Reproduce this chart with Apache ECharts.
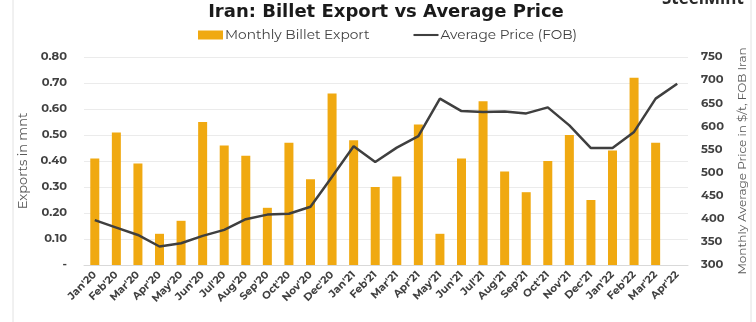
<!DOCTYPE html>
<html>
<head>
<meta charset="utf-8">
<script src="https://cdn.jsdelivr.net/npm/echarts@6/dist/echarts.min.js"></script>
<style>
  html, body { margin: 0; padding: 0; background: #fff; }
  #chart { width: 756px; height: 322px; }
</style>
</head>
<body>
<div id="chart"></div>
<script>
// Months from Jan'20 to Apr'22
var months = ["Jan'20","Feb'20","Mar'20","Apr'20","May'20","Jun'20","Jul'20","Aug'20","Sep'20","Oct'20","Nov'20","Dec'20",
              "Jan'21","Feb'21","Mar'21","Apr'21","May'21","Jun'21","Jul'21","Aug'21","Sep'21","Oct'21","Nov'21","Dec'21",
              "Jan'22","Feb'22","Mar'22","Apr'22"];

// Monthly billet export, million tonnes (no figure yet for Apr'22)
var billetExport = [0.41,0.51,0.39,0.12,0.17,0.55,0.46,0.42,0.22,0.47,0.33,0.66,
                    0.48,0.30,0.34,0.54,0.12,0.41,0.63,0.36,0.28,0.40,0.50,0.25,
                    0.44,0.72,0.47,null];

// Monthly average price, $/t FOB Iran
var avgPrice = [397,381,365,340,347,363,376,399,409,411,426,491,
                557,523,554,579,660,633,631,632,628,641,602,553,
                553,588,660,692];

// Axis ranges
var exportAxis = { min: 0, max: 0.8, step: 0.1 };
var priceAxis = { min: 300, max: 750, step: 50 };

var labelFont = "Montserrat, 'Open Sans', sans-serif";
var chart = echarts.init(document.getElementById('chart'), null, { renderer: 'canvas' });

chart.setOption({
  backgroundColor: '#ffffff',
  animation: false,
  textStyle: { fontFamily: labelFont },
  title: {
    text: 'Iran: Billet Export vs Average Price',
    left: 381, textAlign: 'center', top: -2,
    textStyle: { fontFamily: "'DejaVu Sans', sans-serif", fontWeight: 700, fontSize: 18, color: '#1a1a1a' }
  },
  graphic: [
    { type: 'rect', shape: { x: 13, y: -2, width: 738, height: 330 },
      style: { fill: 'none', stroke: '#e2e2e2', lineWidth: 1 }, silent: true },
    { type: 'text', left: 662, top: -9,
      style: { text: 'SteelMint', font: "700 17px 'Open Sans', sans-serif", fill: '#2a2a2a' } }
  ],
  legend: {
    top: 23, left: 193,
    itemGap: 44, itemWidth: 25, itemHeight: 9,
    textStyle: { fontFamily: labelFont, fontSize: 13.7, color: '#404040', padding: [0,0,0,-3] },
    data: [
      { name: 'Monthly Billet Export', icon: 'rect' },
      { name: 'Average Price (FOB)', icon: 'path://M0,4 L24,4 L24,6 L0,6 Z' }
    ]
  },
  grid: { left: 84, right: 67, top: 57, bottom: 57, containLabel: false },
  xAxis: {
    type: 'category', data: months,
    axisLine: { lineStyle: { color: '#d9d9d9' } },
    axisTick: { show: false },
    axisLabel: { rotate: 45, interval: 0, fontSize: 10.5, fontWeight: 700, color: '#404040', margin: 8 }
  },
  yAxis: [
    {
      type: 'value', min: exportAxis.min, max: exportAxis.max, interval: exportAxis.step,
      name: 'Exports in mnt', nameLocation: 'middle', nameGap: 50, nameRotate: 90,
      nameTextStyle: { fontSize: 13, color: '#595959' },
      axisLine: { show: false }, axisTick: { show: false },
      splitLine: { lineStyle: { color: '#ebebeb' } },
      axisLabel: {
        fontSize: 11.5, fontWeight: 700, color: '#404040', margin: 17,
        formatter: function (v) { return v === 0 ? '-' : v.toFixed(2); }
      }
    },
    {
      type: 'value', min: priceAxis.min, max: priceAxis.max, interval: priceAxis.step,
      name: 'Monthly Average Price in $/t, FOB Iran', nameLocation: 'middle', nameGap: 48, nameRotate: 90,
      nameTextStyle: { fontSize: 12, color: '#595959' },
      axisLine: { show: false }, axisTick: { show: false },
      splitLine: { show: false },
      axisLabel: { fontSize: 11.5, fontWeight: 700, color: '#404040', margin: 13 }
    }
  ],
  series: [
    {
      name: 'Monthly Billet Export', type: 'bar', yAxisIndex: 0,
      data: billetExport, barWidth: 9,
      itemStyle: { color: '#f0a911' }
    },
    {
      name: 'Average Price (FOB)', type: 'line', yAxisIndex: 1,
      data: avgPrice, showSymbol: false, symbol: 'none',
      lineStyle: { color: '#3f3f3f', width: 2.5 },
      itemStyle: { color: '#3f3f3f' }
    }
  ]
});
</script>
</body>
</html>
